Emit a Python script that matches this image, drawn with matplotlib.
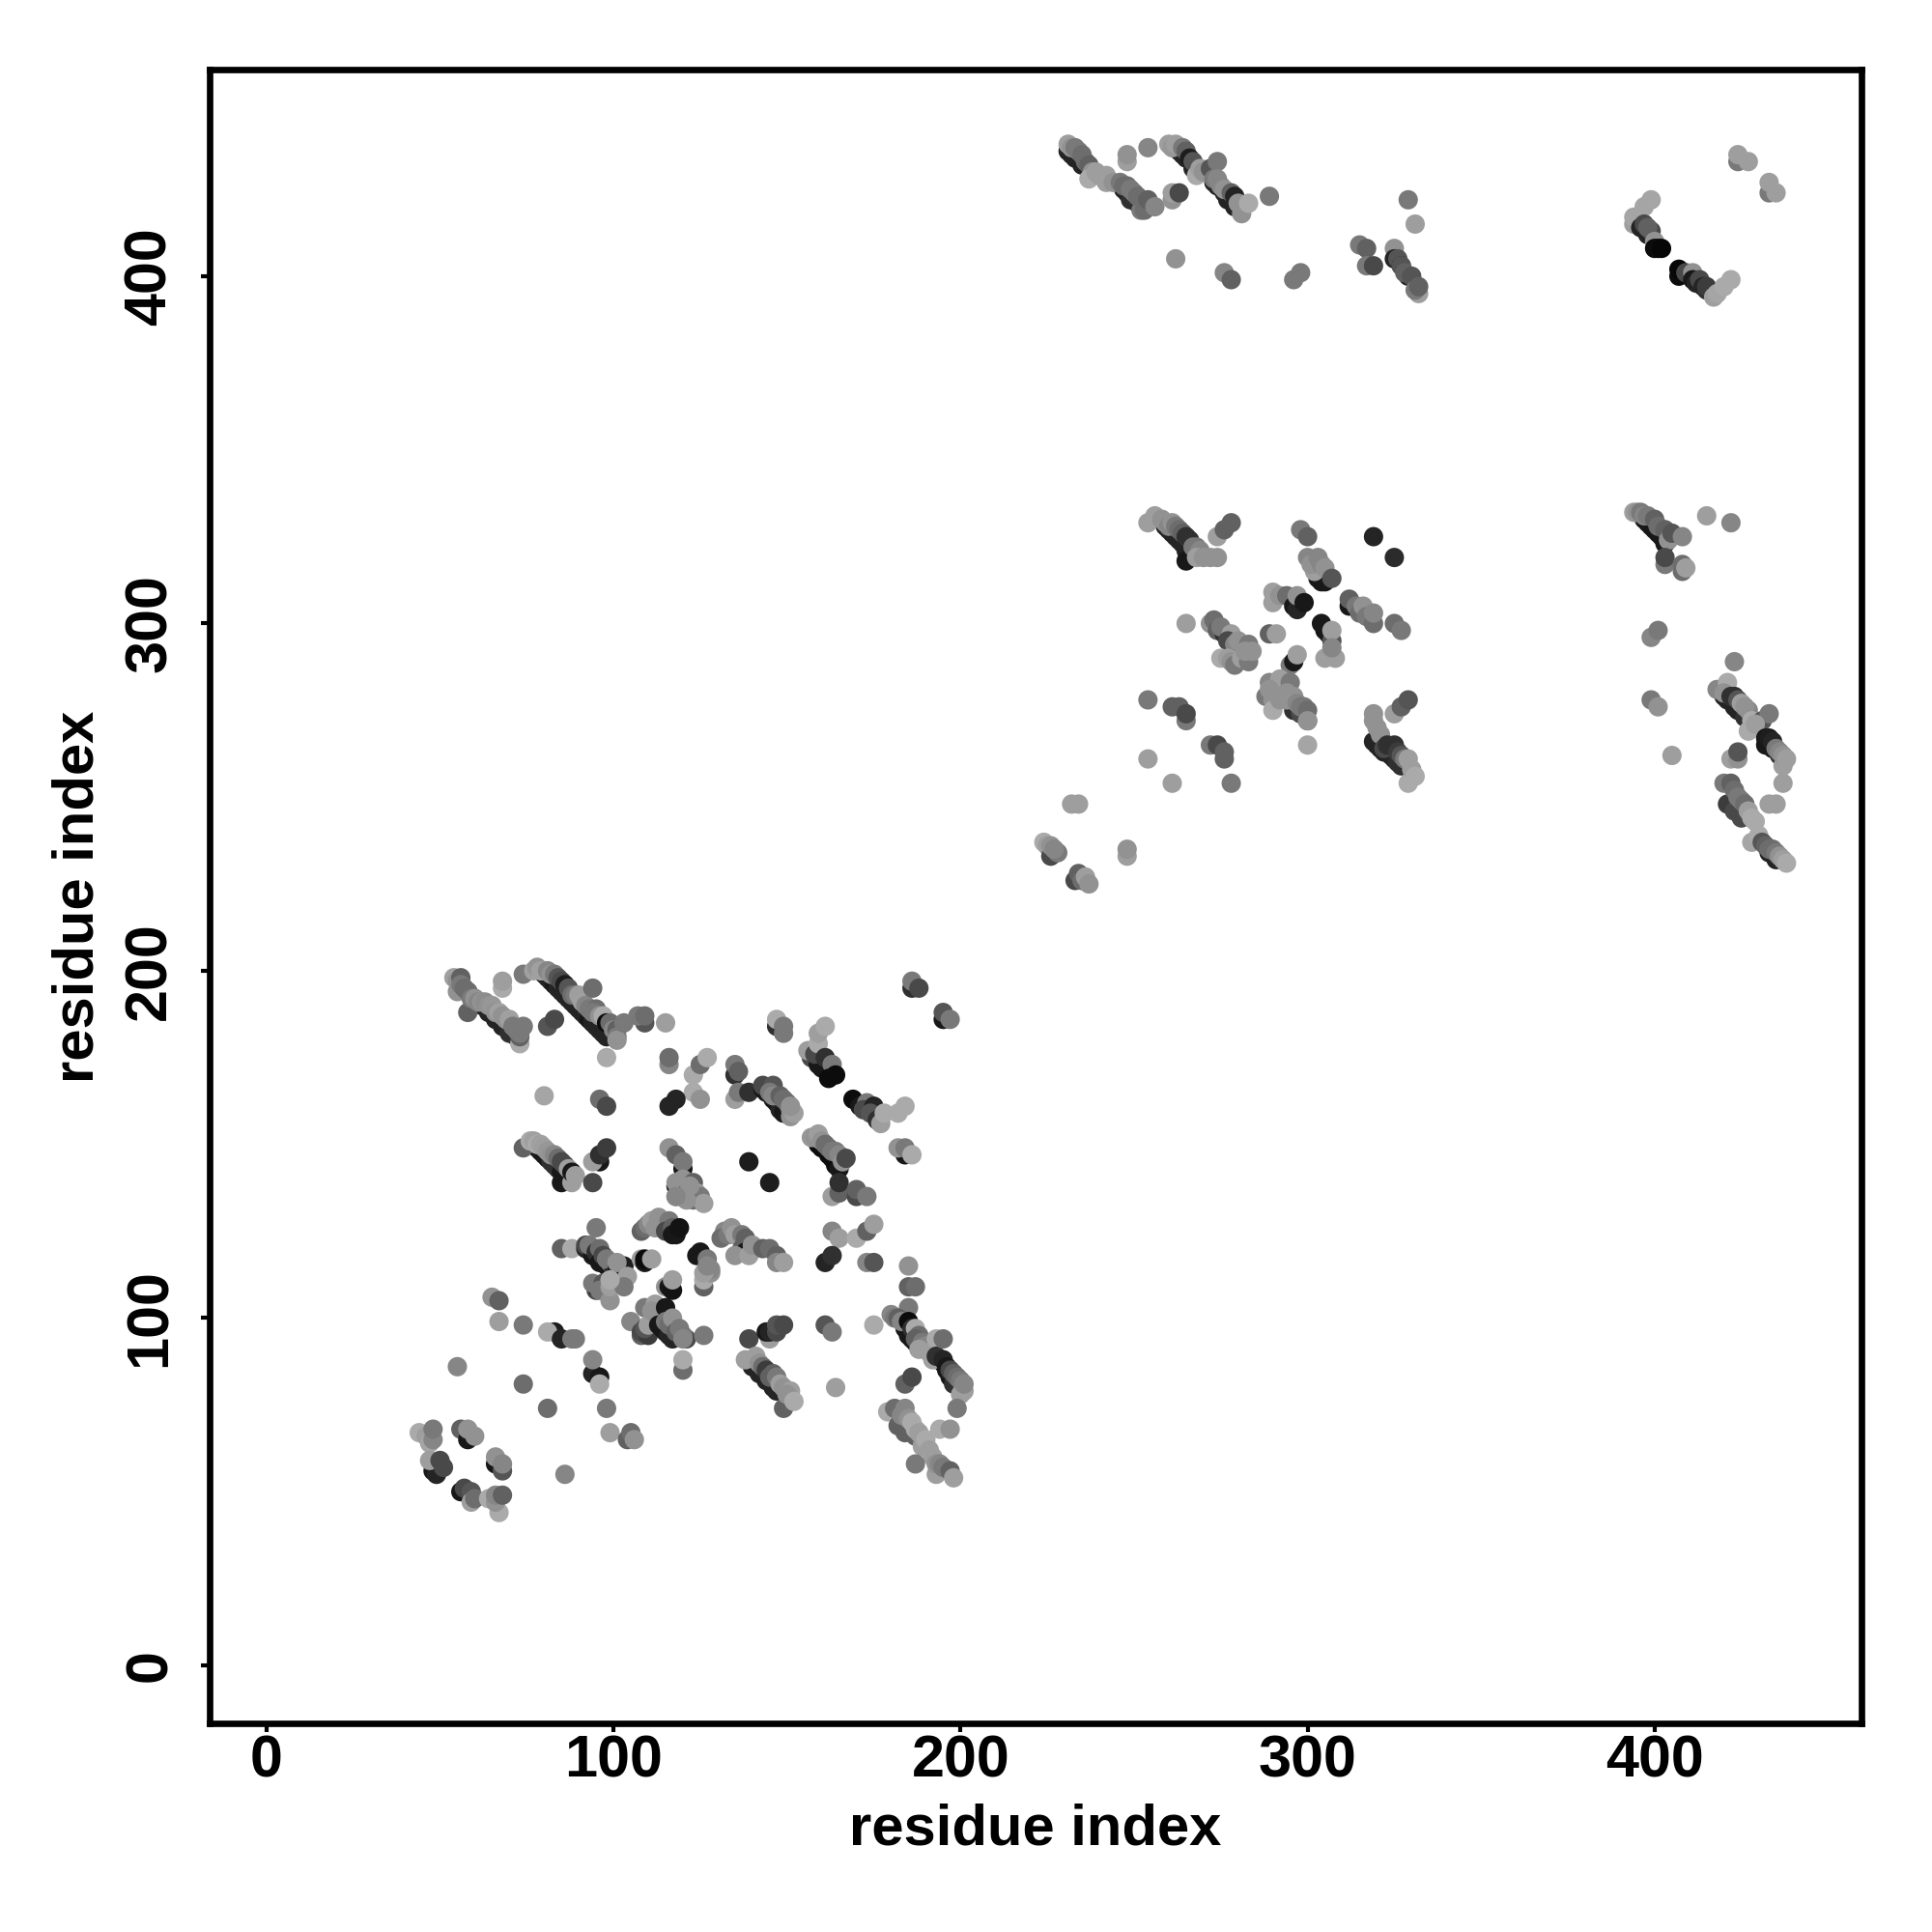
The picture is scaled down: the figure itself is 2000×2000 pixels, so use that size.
import numpy as np
import matplotlib.pyplot as plt

plt.rcParams["font.family"] = ["Liberation Sans", "DejaVu Sans"]
plt.rcParams["font.weight"] = "bold"

# (residue i, residue j, grey level), drawn in this order
block_a_top = [
    (56,196,.2),(58,194,.2),(60,192,.2),(62,190,.15),(64,188,.15),(66,186,.15),(68,184,.15),(70,182,.2),(72,181,.2),
    (73,179,.7),(73,181,.4),(58,188,.4),(55,194,.6),(54,198,.66),(55,197,.6),(56,198,.4),(56,196,.5),(57,195,.45),
    (58,194,.45),(59,192,.5),(60,192,.6),(61,191,.55),(62,191,.6),(63,191,.58),(64,190,.6),(65,190,.62),(66,188,.6),
    (67,188,.66),(68,187,.6),(69,186,.6),(70,186,.66),(71,184,.5),(72,183,.5),(73,182,.5),(74,184,.5),
    (68,195,.7),(68,197,.65),(74,199,.5),
    (80,199,.15),(81,198,.15),(82,197,.15),(83,196,.1),(84,195,.15),(85,194,.15),(86,193,.15),(87,192,.15),(88,191,.15),
    (89,190,.15),(90,189,.15),(91,188,.15),(92,187,.15),(93,186,.1),(94,185,.15),(95,184,.15),(96,183,.15),(97,182,.15),(98,181,.15),
    (77,200,.66),(78,201,.6),(79,200,.66),(80,200,.66),(81,200,.55),(82,199,.6),(83,199,.5),(84,198,.35),
    (85,197,.3),(86,196,.12),(87,195,.35),(88,193,.45),(89,193,.5),(90,193,.65),(91,191,.66),(92,190,.55),(93,189,.5),
    (95,189,.45),(94,195,.45),(94,188,.5),(96,187,.6),(97,187,.7),(98,185,.05),(99,185,.45),(100,183,.55),(101,183,.4),(101,181,.5),
    (101,180,.6),(103,185,.5),
    (109,185,.35),(107,187,.5),(109,187,.45),(115,185,.65),
    (81,184,.35),(83,186,.3),(98,175,.7),
    (116,173,.55),(116,175,.45),(123,170,.7),(125,173,.45),(127,175,.7),(123,165,.7),(125,163,.6),
    (116,161,.15),(118,163,.15),(96,163,.45),(98,161,.3),(80,164,.68),
]
block_a_mid = [
    (78,149,.1),(79,148,.1),(80,147,.1),(81,146,.1),(82,145,.2),(83,144,.2),(84,143,.2),(85,142,.1),(86,140,.1),(85,139,.1),
    (74,149,.4),(76,151,.7),(77,151,.66),(78,150,.7),(79,150,.66),(80,149,.65),(81,148,.62),(82,147,.6),(83,147,.55),(84,146,.45),
    (85,145,.3),(86,144,.3),(88,139,.65),(87,143,.65),(88,142,.1),(89,141,.65),
    (96,145,.1),(94,145,.65),(96,147,.2),(98,149,.25),(94,139,.3),
    (118,138,.1),(120,143,.1),(116,149,.6),(118,147,.4),(120,145,.5),(118,139,.6),(118,135,.6),(120,140,.6),
    (123,139,.4),(124,136,.65),(123,134,.45),(125,135,.5),(126,133,.65),(121,136,.45),(121,134,.6),(122,138,.6),
    (135,170,.2),(135,173,.5),(136,171,.4),(135,163,.65),(136,165,.5),(139,165,.2),
    (143,166,.1),(144,165,.1),(146,163,.1),(147,162,.1),(148,160,.15),(149,159,.1),
    (143,167,.3),(146,167,.35),(145,165,.5),(146,164,.55),(148,164,.4),(149,163,.45),(150,162,.45),(151,160,.55),(151,158,.6),(152,159,.65),(151,161,.6),
    (139,145,.12),(145,139,.12),
    (147,184,.2),(147,186,.7),(149,184,.5),(149,182,.5),
    (157,175,.3),(159,173,.1),(160,172,.1),(156,177,.65),(158,176,.3),(159,179,.7),(159,182,.65),(161,184,.7),
    (161,175,.2),(163,173,.5),(162,169,.05),(164,170,.05),
    (169,163,.05),(171,161,.1),(173,162,.5),(172,160,.3),(175,161,.15),(174,159,.35),(176,157,.2),
    (177,156,.65),(178,159,.7),(182,159,.7),(184,161,.7),
    (184,147,.1),(182,149,.6),(184,149,.5),(186,147,.7),
    (159,150,.05),(160,149,.05),(162,147,.05),(163,146,.05),(164,144,.05),(165,143,.1),
    (157,152,.62),(158,152,.6),(159,153,.65),(160,151,.6),(161,150,.45),(162,149,.45),(163,148,.5),(164,148,.5),(165,147,.55),(166,145,.6),(167,146,.3),
    (163,135,.65),(165,136,.4),(165,139,.2),(170,135,.3),(170,137,.4),(173,135,.5),
    (186,195,.2),(186,197,.5),(188,195,.3),(195,186,.1),(195,188,.35),(197,186,.5),
]
block_a_low = [
    (95,126,.5),(85,120,.4),(88,120,.7),
    (92,120,.15),(92,121,.3),(94,118,.1),(93,121,.5),(95,119,.2),(96,120,.45),(96,116,.1),(97,118,.3),(98,115,.1),(99,116,.55),
    (100,115,.15),(98,117,.5),(103,115,.12),(101,114,.1),(101,116,.6),(104,112,.65),
    (95,108,.3),(95,109,.15),(94,110,.5),(97,110,.35),(96,108,.5),(99,105,.6),(99,109,.65),(103,109,.5),(99,111,.7),
    (108,117,.65),(109,116,.1),(109,117,.05),(111,117,.65),
    (108,125,.4),(109,126,.45),(110,127,.55),(111,128,.65),(112,126,.6),(113,129,.6),(114,128,.6),(116,128,.5),(115,125,.3),(117,126,.4),
    (117,124,.1),(118,124,.1),(119,126,.08),
    (115,109,.6),(116,109,.1),(117,108,.08),(117,111,.65),
    (124,118,.1),(125,119,.1),(126,109,.4),(126,111,.7),(127,117,.5),(128,113,.6),(128,114,.55),(126,113,.65),(127,115,.55),
    (132,125,.55),(131,123,.45),(133,124,.5),(134,126,.6),(135,124,.65),(137,124,.5),(137,120,.4),(138,123,.4),
    (138,119,.1),(135,118,.6),(139,118,.65),(140,121,.6),(143,120,.4),(145,120,.45),(147,118,.4),
    (147,116,.55),(149,116,.65),
    (118,135,.55),
    (105,99,.55),(108,95,.4),(108,96,.3),(109,103,.5),(110,95,.25),(109,97,.35),(110,98,.65),(112,104,.65),(111,102,.6),
    (113,98,.1),(114,97,.1),(115,96,.1),(116,95,.15),(117,94,.15),(118,97,.1),(115,103,.1),(115,99,.5),(116,98,.45),(117,100,.6),(118,96,.4),(119,97,.5),
    (121,94,.3),(120,95,.5),(120,94,.55),(126,95,.5),(120,85,.45),(120,88,.7),
    (89,94,.5),(83,96,.12),(81,96,.7),(85,94,.15),(88,94,.5),
    (94,84,.15),(96,83,.1),(94,88,.55),(96,81,.7),
    (65,106,.6),(67,105,.4),(67,99,.65),(74,98,.5),(55,86,.55),(74,81,.45),(81,74,.45),(98,74,.5),
    (99,67,.65),(104,65,.4),(105,67,.45),(106,65,.6),(86,55,.55),
    (163,125,.55),(165,123,.65),(170,123,.7),(173,125,.4),(175,127,.65),
    (161,116,.15),(163,118,.2),(173,116,.55),(175,116,.35),
    (185,115,.6),(185,109,.4),(187,109,.45),(185,103,.5),(175,98,.7),(164,80,.65),
]
block_a_bottom = [
    (140,86,.15),(142,84,.15),(144,82,.15),(146,80,.15),(147,79,.15),
    (139,94,.3),(138,88,.65),(141,89,.65),(142,87,.6),(143,86,.45),(144,85,.25),(145,83,.4),(146,84,.4),(147,83,.5),(148,81,.65),
    (149,74,.4),(149,80,.6),(151,79,.65),(150,78,.6),(152,76,.7),
    (145,94,.65),(144,96,.1),(145,96,.15),(147,96,.3),(147,98,.35),(149,98,.3),
    (161,98,.35),(163,96,.5),
    (184,97,.1),(185,95,.1),(186,94,.1),(187,93,.1),(188,92,.15),(194,88,.1),(195,87,.1),(196,85,.1),(197,83,.1),(198,81,.2),
    (180,101,.55),(181,100,.5),(182,100,.4),(183,99,.55),(185,99,.05),(186,97,.2),(187,97,.7),(188,95,.45),
    (187,94,.4),(189,93,.5),(190,92,.55),(188,91,.65),(191,90,.65),(193,94,.7),(192,88,.66),(193,89,.2),(195,88,.15),(196,86,.1),(195,94,.45),
    (197,85,.3),(198,84,.4),(199,83,.45),(200,82,.5),(201,79,.65),(200,78,.65),(201,81,.55),(199,74,.5),(184,81,.4),(186,83,.3),
    (194,68,.7),(197,68,.6),
    (183,71,.4),(184,69,.4),(185,68,.35),(187,66,.4),(189,64,.5),
    (179,73,.7),(181,74,.45),(182,69,.4),(184,67,.4),(184,74,.55),(183,72,.55),(185,71,.6),(186,70,.7),(187,68,.7),
    (188,67,.65),(189,63,.65),(190,65,.7),(191,62,.65),(192,60,.65),(187,58,.5),(193,55,.65),(193,58,.6),(194,58,.55),(195,57,.5),(197,56,.4),(198,54,.65),
    (48,56,.1),(49,55,.15),(44,67,.7),(46,66,.65),(47,64,.68),(48,65,.55),(48,68,.5),
    (47,59,.65),(50,59,.3),(51,57,.3),
    (56,68,.4),(58,65,.1),(58,68,.6),(60,66,.6),
    (66,58,.1),(66,60,.6),(68,56,.35),(68,58,.55),
    (56,50,.1),(57,51,.3),(59,50,.35),(59,47,.65),(60,48,.45),
    (64,48,.7),(67,44,.7),(66,47,.6),(66,49,.55),(68,49,.4),
]
block_b = [
    (259,328,.15),(260,327,.15),(261,326,.15),(262,325,.15),(263,324,.15),(264,323,.15),(265,321,.15),(265,318,.1),
    (254,329,.65),(256,331,.65),(258,330,.6),(259,329,.6),(260,328,.55),(261,329,.6),(262,328,.5),(263,327,.45),(264,326,.4),(265,325,.2),(266,324,.2),(267,322,.5),(268,322,.5),(269,321,.55),
    (268,319,.65),(270,319,.6),(272,319,.6),(274,319,.6),(274,325,.65),(276,327,.4),(278,329,.4),
    (298,327,.5),(300,325,.4),(319,325,.15),(325,319,.18),
    (303,313,.1),(304,312,.1),(305,312,.1),(300,319,.55),(302,315,.65),(301,317,.6),(303,319,.55),(304,317,.55),(305,316,.6),(307,313,.35),
    (290,306,.65),(290,309,.65),(292,308,.6),(294,308,.45),(296,305,.1),(297,304,.15),(297,308,.6),(299,306,.1),
    (312,305,.1),(312,307,.4),(314,305,.5),(315,303,.45),(316,305,.6),(317,302,.5),(319,300,.45),(319,303,.55),(325,300,.45),(327,298,.5),
    (305,298,.08),(304,300,.1),(306,297,.1),(305,290,.65),(308,290,.65),(307,295,.35),(307,298,.65),(307,293,.55),
    (265,300,.65),(272,300,.6),(273,301,.45),(274,298,.4),(276,297,.2),(275,299,.5),(278,297,.65),(277,295,.3),(279,294,.55),(280,295,.6),
    (283,294,.5),(275,290,.7),(277,290,.65),(278,289,.6),(279,288,.5),(281,290,.65),(283,289,.5),(282,292,.6),(284,292,.6),
    (289,297,.4),(291,297,.65),(295,288,.5),(296,289,.1),(297,291,.65),
    (289,283,.55),(292,284,.65),(295,283,.5),(288,279,.5),(289,281,.6),(290,278,.6),(290,275,.7),(292,278,.6),
    (296,275,.2),(298,274,.3),(300,272,.4),(294,280,.6),(296,279,.6),(294,278,.6),(297,277,.55),(298,276,.5),(299,276,.5),(300,275,.45),(300,272,.6),
    (300,265,.68),(254,278,.5),(261,276,.4),(263,276,.4),(265,272,.5),(265,274,.3),
    (272,265,.5),(274,265,.3),(276,261,.4),(276,263,.4),(254,261,.65),(261,254,.65),(278,254,.5),
    (319,266,.15),(320,265,.15),(321,264,.15),(322,263,.15),(323,263,.15),(324,262,.15),(325,261,.15),(326,260,.2),(327,259,.2),
    (319,272,.6),(319,274,.6),(320,270,.6),(321,268,.6),(325,274,.65),(327,276,.4),(329,278,.35),
    (322,264,.3),(323,265,.2),(325,265,.2),(326,263,.25),(327,262,.35),(328,261,.5),(329,261,.65),(329,254,.7),(330,258,.65),(331,256,.7),
    (232,248,.65),(234,248,.65),(248,233,.65),(248,235,.6),
    (224,237,.7),(225,236,.65),(226,233,.3),(226,236,.6),(228,234,.5),(227,235,.55),
    (233,226,.3),(234,228,.4),(235,226,.45),(236,227,.65),(237,225,.6),
]
block_c = [
    (397,330,.1),(398,329,.1),(399,328,.1),(400,327,.1),(401,326,.1),(402,325,.1),(403,323,.1),
    (394,332,.65),(395,332,.6),(396,332,.5),(397,331,.55),(398,331,.5),(400,330,.4),(401,328,.45),(403,327,.4),(404,324,.6),(405,326,.35),(408,325,.55),
    (415,331,.65),(422,329,.55),(403,317,.5),(403,319,.3),(408,315,.45),(408,317,.45),(409,316,.65),
    (399,296,.55),(401,298,.5),(399,278,.5),(401,276,.6),(405,262,.65),
    (420,279,.15),(421,278,.15),(423,276,.15),(424,275,.15),(426,273,.2),
    (423,289,.55),(418,281,.55),(421,283,.7),(420,280,.6),(422,279,.2),(423,279,.2),(424,278,.35),(425,277,.65),(427,275,.55),(426,276,.6),(428,272,.7),(427,269,.7),
    (431,272,.35),(433,274,.5),(429,271,.65),
    (432,265,.1),(434,264,.1),(436,262,.2),(432,267,.1),(433,267,.12),(434,266,.15),(435,264,.5),(436,263,.55),(437,259,.65),(437,262,.6),(438,261,.65),
    (422,261,.65),(424,261,.6),(424,263,.35),(437,254,.65),(433,248,.65),(435,248,.65),
    (421,248,.25),(423,246,.3),(425,244,.3),(420,254,.5),(422,254,.4),(423,252,.45),(424,250,.5),(425,249,.5),(426,248,.45),(427,246,.65),(428,244,.7),(429,243,.7),(428,237,.68),
    (430,239,.7),(433,234,.15),(435,232,.15),(431,237,.35),(432,236,.4),(433,235,.45),(434,235,.45),(435,234,.5),(436,233,.6),(437,232,.65),(438,231,.7),
]
block_d = [
    (231,436,.15),(232,435,.15),(233,434,.15),(235,432,.15),(247,425,.15),(248,424,.15),(249,422,.2),(251,421,.2),
    (231,438,.65),(232,437,.6),(233,437,.5),(234,436,.5),(235,435,.45),(236,433,.45),(237,432,.4),(238,430,.6),(237,428,.7),(239,430,.65),(240,429,.65),(242,429,.65),
    (242,427,.65),(244,427,.6),(246,427,.5),(247,426,.45),(248,426,.45),(249,425,.5),(250,424,.5),(252,419,.5),(251,423,.45),(253,419,.45),(254,422,.4),(256,420,.55),
    (248,433,.65),(248,435,.6),(254,437,.55),(261,422,.6),(261,424,.65),(263,424,.3),(262,405,.6),
    (263,436,.15),(264,435,.15),(265,434,.15),(267,431,.15),(268,430,.15),(273,427,.15),(274,426,.15),(276,424,.15),(277,422,.15),(279,420,.15),
    (260,438,.65),(261,437,.62),(262,438,.65),(264,437,.5),(265,436,.4),(266,434,.12),(267,433,.35),(268,429,.7),(269,431,.65),(270,430,.6),(272,431,.35),(274,433,.5),
    (273,428,.5),(274,428,.55),(275,426,.55),(276,425,.6),(278,424,.4),(279,423,.15),(281,418,.6),(280,421,.6),(281,420,.6),(283,421,.7),(289,423,.5),
    (276,401,.55),(278,399,.4),(296,399,.5),(298,401,.5),(315,409,.5),(317,408,.4),(317,403,.5),(319,403,.3),
    (329,422,.5),(331,415,.65),(325,408,.6),(325,405,.15),(326,405,.35),(327,403,.15),(327,403,.35),(329,400,.15),(328,401,.4),
    (330,400,.35),(332,395,.65),(331,396,.5),(332,397,.4),
    (424,433,.5),(424,435,.65),(427,433,.65),(433,424,.5),(433,427,.65),(435,424,.65),
    (399,422,.68),(397,420,.68),(394,415,.65),(394,417,.68),(396,414,.15),(397,415,.3),(398,412,.15),(399,413,.3),
    (398,414,.4),(400,410,.6),(400,408,.05),(401,408,.05),(402,408,.03),
    (407,400,.05),(407,402,.03),(409,401,.3),(411,401,.6),(411,399,.1),(412,398,.15),(413,399,.3),(414,397,.15),(415,396,.2),(415,397,.25),
    (417,394,.65),(418,395,.68),(420,397,.7),(422,399,.7),
]
ticks = [0, 100, 200, 300, 400]

fig = plt.figure(figsize=(10, 10), dpi=200)
ax = fig.add_axes([0.1083, 0.108, 0.855, 0.856])

for block in [block_a_top, block_a_mid, block_a_low, block_a_bottom, block_b, block_c, block_d]:
    pts = np.array(block)
    ax.scatter(pts[:, 0], pts[:, 1], s=52, c=pts[:, 2], cmap="gray", vmin=0, vmax=1.05, linewidths=0, zorder=2)

ax.set_xlim(-16.5, 459.5)
ax.set_ylim(-16.7, 459.5)
ax.set_xticks(ticks)
ax.set_yticks(ticks)
ax.tick_params(axis="x", length=3.2, width=1.5, labelsize=22, pad=0.8)
ax.tick_params(axis="y", length=3.2, width=1.5, labelsize=22, pad=8.3, labelrotation=90)
for lab in ax.get_yticklabels():
    lab.set_va("center")
for s in ax.spines.values():
    s.set_linewidth(2.4)

ax.set_xlabel("residue index", fontsize=21.5, fontweight="bold", labelpad=5)
ax.set_ylabel("residue index", fontsize=21.5, fontweight="bold", labelpad=6.8)

fig.savefig("out.png", dpi=200)
